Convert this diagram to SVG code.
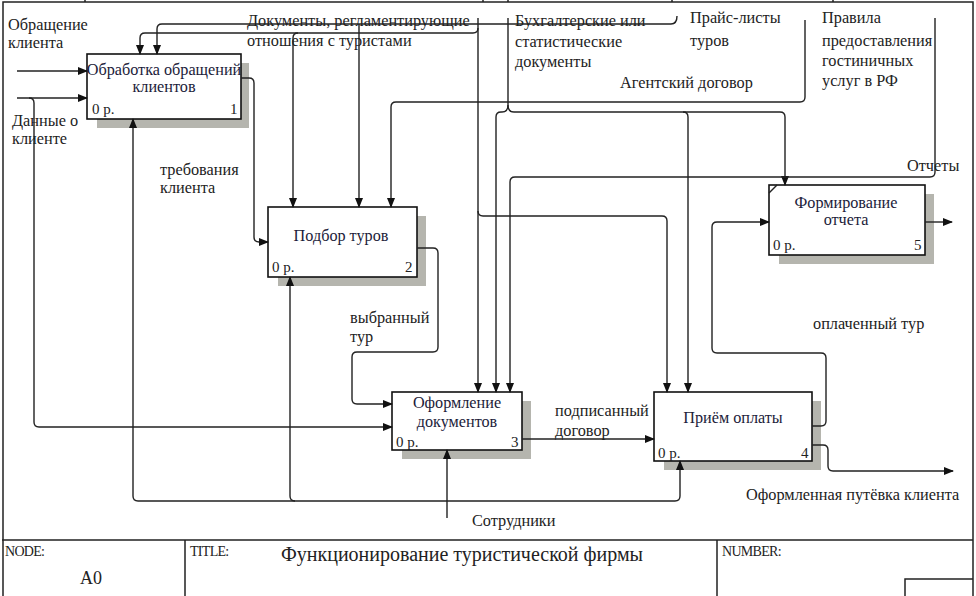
<svg xmlns="http://www.w3.org/2000/svg" width="976" height="596" viewBox="0 0 976 596">
<defs>
<marker id="arr" markerWidth="10" markerHeight="8" refX="9" refY="4" orient="auto" markerUnits="userSpaceOnUse">
<path d="M0,0 L10,4 L0,8 Z" fill="#111"/>
</marker>
<style>
.frame{fill:none;stroke:#222;stroke-width:1.5}
.box{fill:#fff;stroke:#111;stroke-width:1.6}
.shadow{fill:#b5b5ae}
.c{fill:none;stroke:#222;stroke-width:1.4}
.a{fill:none;stroke:#222;stroke-width:1.4;marker-end:url(#arr)}
text{font-family:"Liberation Serif","Times New Roman",serif;fill:#222}
.lbl{font-size:16.3px}
.bt{font-size:16.2px;text-anchor:middle;fill:#1c1c3a}
.small{font-size:15px}
.hdr{font-size:14px;letter-spacing:-0.7px}
</style>
</defs>
<rect width="976" height="596" fill="#fff"/>
<g id="frame">
<path class="frame" d="M3,596 V2 H973 V596"/>
<path class="frame" d="M85,0 V2 M483,0 V2 M508,0 V2 M672,0 V2 M833,0 V2"/>
<path class="frame" d="M2,540 H973 M185,540 V596 M717,540 V596 M905,596 V579 H973"/>
<text class="hdr" x="5" y="556">NODE:</text>
<text x="80" y="584" style="font-size:18px">A0</text>
<text class="hdr" x="190" y="556">TITLE:</text>
<text x="462" y="561" style="font-size:20px;text-anchor:middle">Функционирование туристической фирмы</text>
<text class="hdr" x="722" y="556">NUMBER:</text>
</g>
<g id="labels">
<text class="lbl" x="8" y="30">Обращение</text>
<text class="lbl" x="8" y="48">клиента</text>
<text class="lbl" x="12" y="126">Данные о</text>
<text class="lbl" x="12" y="144">клиенте</text>
<text class="lbl" x="160" y="175">требования</text>
<text class="lbl" x="160" y="193">клиента</text>
<text class="lbl" x="247" y="26">Документы, регламентирующие</text>
<text class="lbl" x="247" y="46">отношения с туристами</text>
<text class="lbl" x="515" y="26">Бухгалтерские или</text>
<text class="lbl" x="515" y="47">статистические</text>
<text class="lbl" x="515" y="67">документы</text>
<text class="lbl" x="690" y="23">Прайс-листы</text>
<text class="lbl" x="690" y="46">туров</text>
<text class="lbl" x="620" y="88">Агентский договор</text>
<text class="lbl" x="822" y="23">Правила</text>
<text class="lbl" x="822" y="46">предоставления</text>
<text class="lbl" x="822" y="66">гостиничных</text>
<text class="lbl" x="822" y="86">услуг в РФ</text>
<text class="lbl" x="907" y="171">Отчеты</text>
<text class="lbl" x="350" y="323">выбранный</text>
<text class="lbl" x="350" y="342">тур</text>
<text class="lbl" x="555" y="416">подписанный</text>
<text class="lbl" x="555" y="436">договор</text>
<text class="lbl" x="813" y="329">оплаченный тур</text>
<text class="lbl" x="746" y="500">Оформленная путёвка клиента</text>
<text class="lbl" x="472" y="526">Сотрудники</text>
</g>
<g id="node1">
<rect class="shadow" x="97" y="63" width="152" height="65"/>
<rect class="box" x="87" y="54" width="154" height="65"/>
<text class="bt" x="164" y="75">Обработка обращений</text>
<text class="bt" x="164" y="92">клиентов</text>
<text class="small" x="92" y="114">0 р.</text>
<text class="small" x="230" y="114">1</text>
</g>
<g id="node2">
<rect class="shadow" x="278" y="216" width="148" height="70"/>
<rect class="box" x="268" y="207" width="149" height="70"/>
<text class="bt" x="341" y="241">Подбор туров</text>
<text class="small" x="272" y="272">0 р.</text>
<text class="small" x="405" y="272">2</text>
</g>
<g id="node3">
<rect class="shadow" x="402" y="401" width="129" height="58"/>
<rect class="box" x="392" y="392" width="130" height="58"/>
<text class="bt" x="457" y="408">Оформление</text>
<text class="bt" x="457" y="427">документов</text>
<text class="small" x="396" y="447">0 р.</text>
<text class="small" x="511" y="447">3</text>
</g>
<g id="node4">
<rect class="shadow" x="664" y="401" width="157" height="69"/>
<rect class="box" x="654" y="392" width="158" height="69"/>
<text class="bt" x="733" y="423">Приём оплаты</text>
<text class="small" x="658" y="458">0 р.</text>
<text class="small" x="801" y="458">4</text>
</g>
<g id="node5">
<rect class="shadow" x="779" y="194" width="155" height="70"/>
<rect class="box" x="769" y="185" width="156" height="70"/>
<path class="c" d="M769,193 L777,185"/>
<text class="bt" x="846" y="208">Формирование</text>
<text class="bt" x="846" y="225">отчета</text>
<text class="small" x="773" y="250">0 р.</text>
<text class="small" x="914" y="250">5</text>
</g>
<g id="connectors">
<path class="a" d="M17,71 H87"/>
<path class="a" d="M17,98 H87"/>
<path class="a" d="M29,98 Q34,98 34,103 V422 Q34,427 39,427 H392"/>
<path class="a" d="M478,18 V392"/>
<path class="a" d="M478,28 Q478,33 473,33 H145 Q140,33 140,38 V54"/>
<path class="a" d="M298,33 Q293,33 293,38 V207"/>
<path class="a" d="M478,211 Q478,216 483,216 H662 Q667,216 667,221 V392"/>
<path class="a" d="M677,16 Q677,24 671,24 H162 Q157,24 157,29 V54"/>
<path class="a" d="M359,24 V207"/>
<path class="c" d="M508,18 V105"/>
<path class="a" d="M508,105 Q508,112 502,112 H501 Q496,112 496,117 V392"/>
<path class="a" d="M508,105 Q508,112 514,112 H780 Q785,112 785,117 V185"/>
<path class="a" d="M683,112 Q688,112 688,117 V392"/>
<path class="a" d="M805,20 V97 Q805,102 800,102 H396 Q391,102 391,107 V207"/>
<path class="a" d="M935,18 V172 Q935,177 930,177 H515 Q510,177 510,182 V392"/>
<path class="a" d="M241,78 H249 Q254,78 254,83 V237 Q254,242 259,242 H268"/>
<path class="a" d="M417,248 H433 Q438,248 438,253 V347 Q438,352 433,352 H357 Q352,352 352,357 V399 Q352,404 357,404 H392"/>
<path class="a" d="M522,439 H654"/>
<path class="a" d="M812,426 H821 Q826,426 826,421 V358 Q826,353 821,353 H717 Q712,353 712,348 V227 Q712,222 717,222 H769"/>
<path class="a" d="M812,445 H823 Q828,445 828,450 V466 Q828,471 833,471 H953"/>
<path class="a" d="M925,222 H952"/>
<path class="a" d="M447,518 V450"/>
<path class="a" d="M447,501 H138 Q133,501 133,496 V119"/>
<path class="a" d="M295,501 Q290,501 290,496 V277"/>
<path class="a" d="M447,501 H675 Q680,501 680,496 V461"/>
</g>
</svg>
